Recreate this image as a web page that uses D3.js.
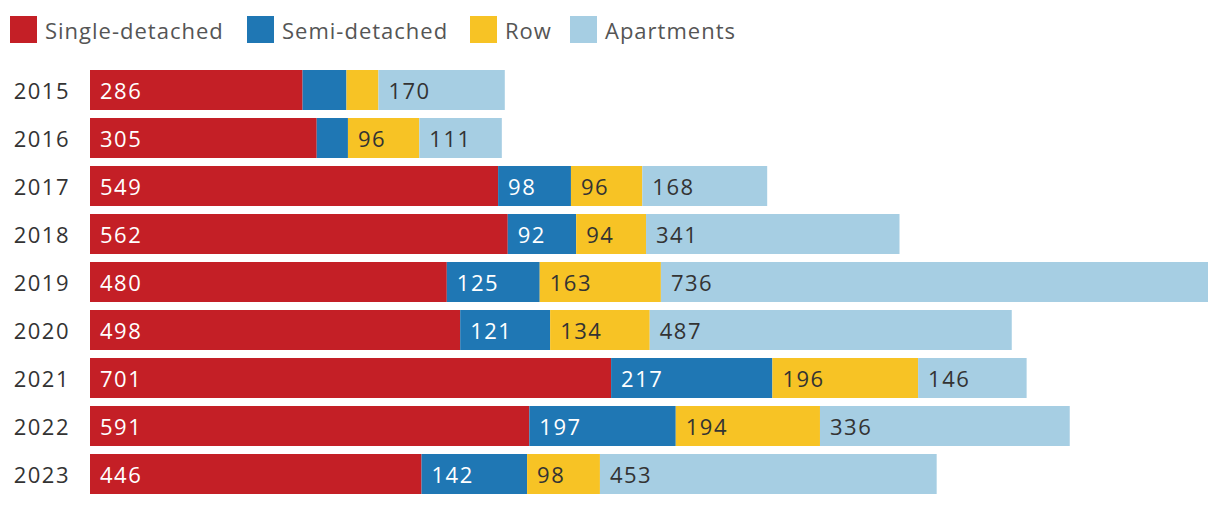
<!DOCTYPE html>
<html>
<head>
<meta charset="utf-8">
<script src="https://cdn.jsdelivr.net/npm/d3@7"></script>
<style>
  html, body { margin: 0; padding: 0; background: #fff; }
  svg { display: block; font-family: "Open Sans", sans-serif; }
</style>
</head>
<body>
<svg id="chart" width="1220" height="506"></svg>
<script>
const years = ["2015","2016","2017","2018","2019","2020","2021","2022","2023"];
const seriesNames = ["Single-detached","Semi-detached","Row","Apartments"];
const singleDetached = [286, 305, 549, 562, 480, 498, 701, 591, 446];
const semiDetached   = [59, 42, 98, 92, 125, 121, 217, 197, 142];
const row            = [43, 96, 96, 94, 163, 134, 196, 194, 98];
const apartments     = [170, 111, 168, 341, 736, 487, 146, 336, 453];

const colors = ["#c41f26", "#1f77b4", "#f7c325", "#a6cee3"];
const labelColors = ["#ffffff", "#ffffff", "#333333", "#333333"];

const table = years.map((y, i) => ({
  year: y,
  "Single-detached": singleDetached[i],
  "Semi-detached": semiDetached[i],
  "Row": row[i],
  "Apartments": apartments[i]
}));

const stack = d3.stack().keys(seriesNames);
const stacked = stack(table);

const svg = d3.select("#chart");

const x = d3.scaleLinear()
  .domain([0, d3.max(table, d => seriesNames.reduce((s, k) => s + d[k], 0))])
  .range([90, 1208]);

const y = d3.scaleBand()
  .domain(years)
  .range([66, 498])
  .paddingInner(1/6)
  .paddingOuter(1/12);

// Legend
const legendX = [10, 247, 470, 570];
const legend = svg.append("g");
seriesNames.forEach((name, i) => {
  const g = legend.append("g").attr("transform", `translate(${legendX[i]},16)`);
  g.append("rect").attr("width", 27).attr("height", 27).attr("fill", colors[i]);
  g.append("text")
    .attr("x", 35).attr("y", 23)
    .attr("fill", "#555")
    .style("font-size", "22px")
    .style("letter-spacing", "1px")
    .text(name);
});

// Bars
const layers = svg.append("g").selectAll("g")
  .data(stacked)
  .join("g")
  .attr("fill", (d, i) => colors[i]);

layers.selectAll("rect")
  .data(d => d.map(v => ({v, key: d.key})))
  .join("rect")
  .attr("x", d => x(d.v[0]))
  .attr("y", d => y(d.v.data.year))
  .attr("width", d => x(d.v[1]) - x(d.v[0]))
  .attr("height", y.bandwidth());

// Value labels
stacked.forEach((layer, li) => {
  svg.append("g").selectAll("text")
    .data(layer.filter(v => x(v[1]) - x(v[0]) > 50))
    .join("text")
    .attr("x", v => x(v[0]) + 10)
    .attr("y", v => y(v.data.year) + y.bandwidth() / 2 + 9)
    .attr("fill", labelColors[li])
    .style("font-size", "22px")
    .style("letter-spacing", "1.5px")
    .text(v => v.data[layer.key]);
});

// Year axis labels
const yAxis = d3.axisLeft(y).tickSize(0).tickPadding(0);
const ax = svg.append("g").attr("transform", "translate(70,0)").call(yAxis);
ax.select(".domain").remove();
ax.selectAll("text")
  .attr("fill", "#333")
  .style("font-size", "22px")
  .style("letter-spacing", "1.5px")
  .style("font-family", "'Open Sans', sans-serif")
  .attr("dy", null)
  .attr("y", 9);
</script>
</body>
</html>
